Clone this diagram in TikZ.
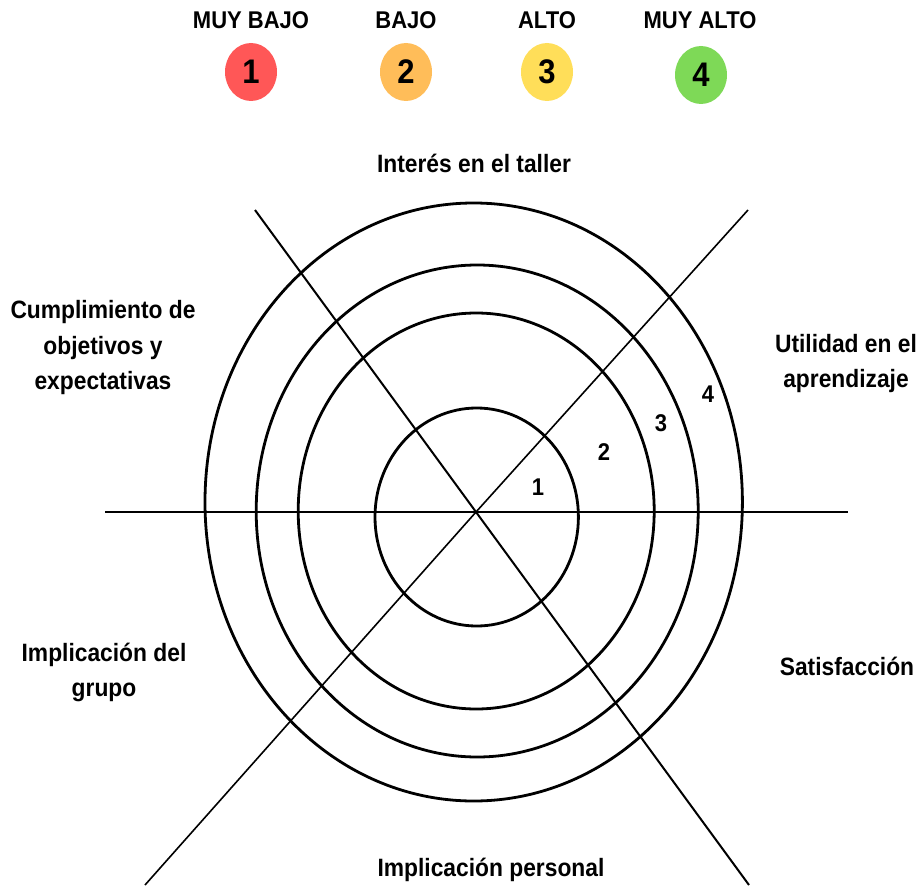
\documentclass[tikz,border=0pt]{standalone}
\usepackage{fontspec}
\usepackage{graphicx}
\setmainfont{Liberation Sans}
\usetikzlibrary{shapes.geometric}

\definecolor{lvlred}{HTML}{FF5757}
\definecolor{lvlorange}{HTML}{FFBD59}
\definecolor{lvlyellow}{HTML}{FFDE59}
\definecolor{lvlgreen}{HTML}{7ED957}

% slightly tall lettering, centred lines
\newcommand\tallstack[1]{\scalebox{1}[1.1]{\begin{tabular}{@{}c@{}}#1\end{tabular}}}
\newcommand\tallword[1]{\scalebox{1}[1.1]{#1}}

\begin{document}
\begin{tikzpicture}[x=1pt,y=-1pt,
  ring/.style={draw=black, line width=2.8pt},
  axis/.style={draw=black, line width=2pt},
  lbl/.style={font=\bfseries\fontsize{22.8}{32}\selectfont, inner sep=0pt},
  lvl/.style={font=\bfseries\fontsize{22}{26}\selectfont, inner sep=0pt},
  badge/.style={ellipse, minimum width=52pt, minimum height=58pt, inner sep=0pt,
    font=\bfseries\fontsize{31}{34}\selectfont},
  ringnum/.style={font=\bfseries\fontsize{22}{24}\selectfont, inner sep=0pt}]
\useasboundingbox (0,0) rectangle (923,888);

% legend
\node[lvl] (t1) at (251,20) {\tallword{MUY BAJO}};
\node[lvl] (t2) at (406,20) {\tallword{BAJO}};
\node[lvl] (t3) at (547,20) {\tallword{ALTO}};
\node[lvl] (t4) at (700,20) {\tallword{MUY ALTO}};
\node[badge, fill=lvlred]    (b1) at (251,72) {\tallword{1}};
\node[badge, fill=lvlorange] (b2) at (406,72) {\tallword{2}};
\node[badge, fill=lvlyellow] (b3) at (547,72) {\tallword{3}};
\node[badge, fill=lvlgreen]  (b4) at (701,75) {\tallword{4}};

% concentric rings
\coordinate (c) at (476,512);
\draw[ring] (476.7,517) ellipse [x radius=101.7pt, y radius=109pt];
\draw[ring] (476.2,511) ellipse [x radius=178pt, y radius=198pt];
\draw[ring] (477.2,511) ellipse [x radius=221pt, y radius=246pt];
\draw[ring] (473.7,502) ellipse [x radius=268.7pt, y radius=299pt];

% axes
\coordinate (hl) at (105,512);
\coordinate (hr) at (848,512);
\coordinate (dtl) at (255,210);
\coordinate (dbr) at (749,885);
\coordinate (dtr) at (748,210);
\coordinate (dbl) at (145,885);
\draw[axis] (hl) -- (hr);
\draw[axis] (dtl) -- (c) -- (dbr);
\draw[axis, line width=1.6pt] (dtr) -- (c) -- (dbl);

% ring values
\node[ringnum] (n1) at (538,487) {\tallword{1}};
\node[ringnum] (n2) at (604,452) {\tallword{2}};
\node[ringnum] (n3) at (661,423) {\tallword{3}};
\node[ringnum] (n4) at (708,394) {\tallword{4}};

% criteria
\node[lbl] (top) at (474,163) {\tallword{Interés en el taller}};
\node[lbl] (ul) at (103,347) {\tallstack{Cumplimiento de\\objetivos y\\expectativas}};
\node[lbl] (ur) at (846,363) {\tallstack{Utilidad en el\\aprendizaje}};
\node[lbl] (ll) at (104,672) {\tallstack{Implicación del\\grupo}};
\node[lbl] (lr) at (847,666) {\tallword{Satisfacción}};
\node[lbl] (bot) at (491,870) {\tallword{Implicación personal}};
\end{tikzpicture}
\end{document}
